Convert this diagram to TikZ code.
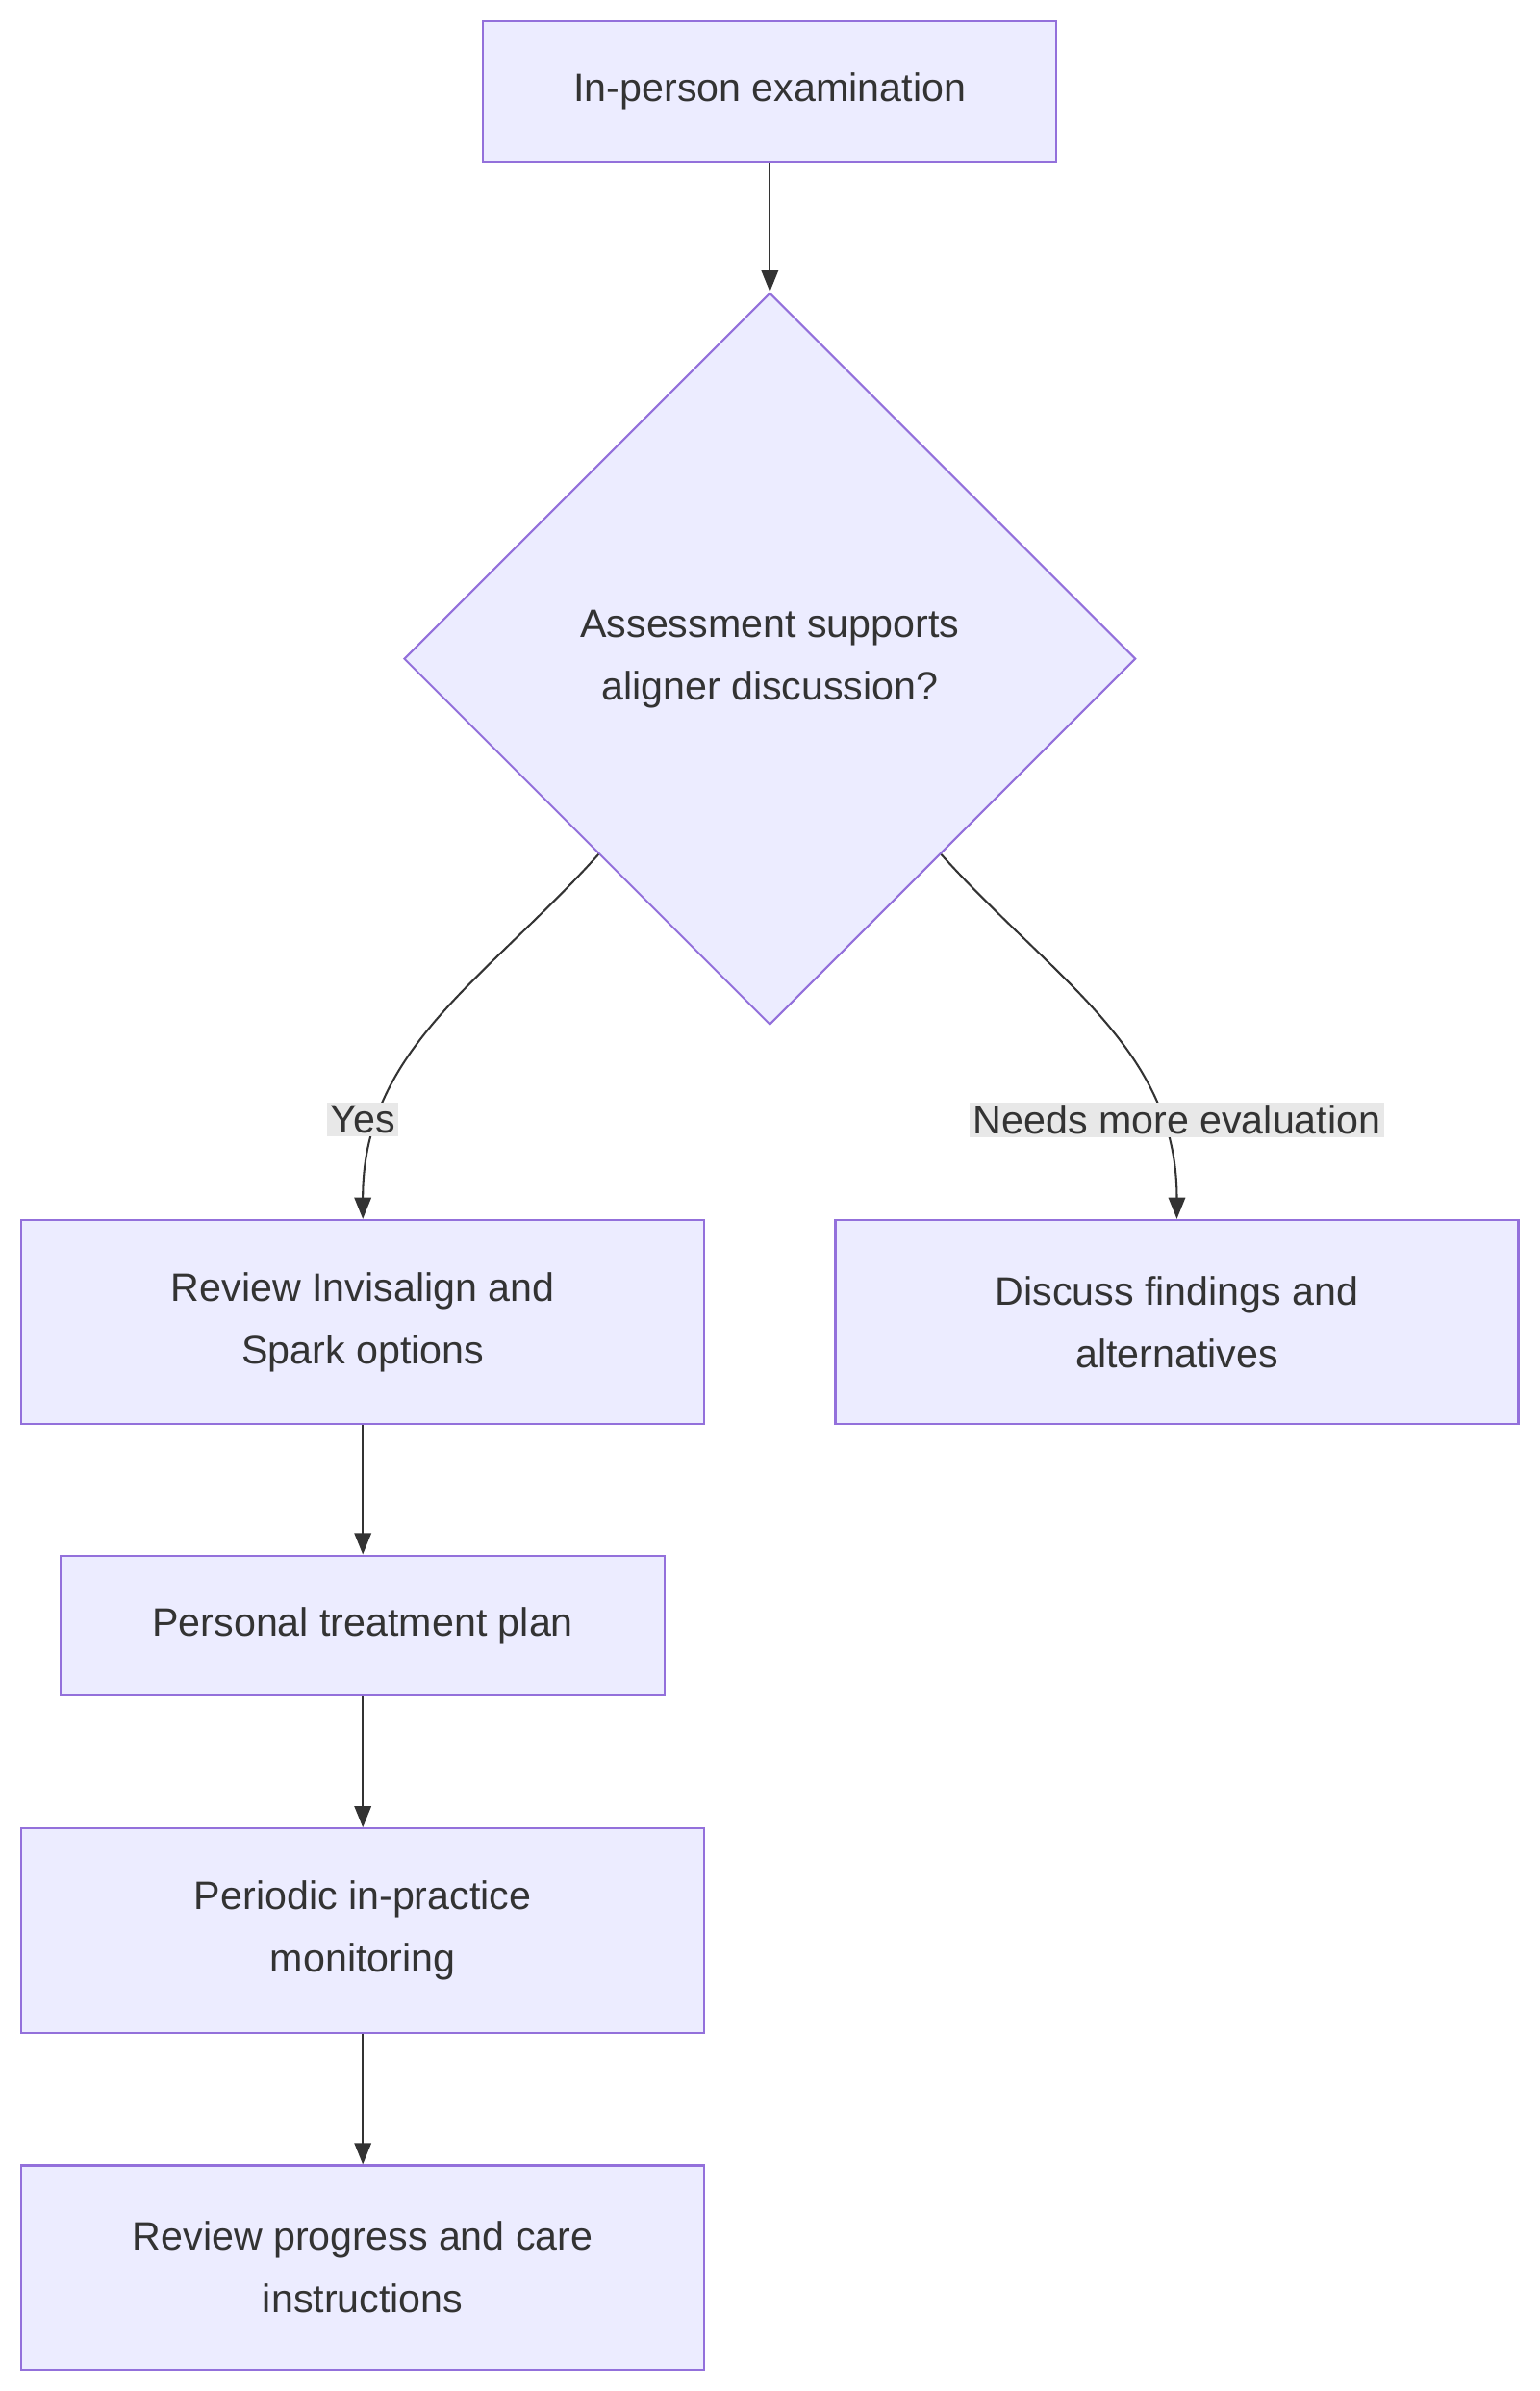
\documentclass[tikz,border=0pt]{standalone}
\usepackage{fontspec}
\setmainfont{Liberation Sans}
\usetikzlibrary{arrows.meta,shapes.geometric,calc}
\definecolor{boxfill}{HTML}{ECECFF}
\definecolor{boxline}{HTML}{9370DB}
\definecolor{ink}{HTML}{333333}
\definecolor{lblbg}{HTML}{E8E8E8}
\tikzset{
  box/.style={draw=boxline,fill=boxfill,line width=1.3pt,text=ink,align=center,
    font=\fontsize{26}{41}\selectfont,inner sep=0pt},
  flow/.style={draw=ink,line width=1.3pt,-{Triangle[length=14pt,width=11pt]}},
  lbl/.style={fill=lblbg,text=ink,font=\fontsize{26}{30}\selectfont,inner sep=2pt}
}
\begin{document}
\begin{tikzpicture}[x=1pt,y=-1pt]
\useasboundingbox (0,0) rectangle (1010,1568);
% nodes
\node[box,minimum width=376pt,minimum height=92pt] (exam) at (505,60) {In-person examination};
\node[box,diamond,minimum width=480pt,minimum height=480pt] (assess) at (505,432) {Assessment supports\\aligner discussion?};
\node[box,minimum width=448pt,minimum height=134pt] (review) at (238,867) {Review Invisalign and\\Spark options};
\node[box,minimum width=448pt,minimum height=134pt] (discuss) at (772,867) {Discuss findings and\\alternatives};
\node[box,minimum width=396pt,minimum height=92pt] (plan) at (238,1066) {Personal treatment plan};
\node[box,minimum width=448pt,minimum height=134pt] (monitor) at (238,1266) {Periodic in-practice\\monitoring};
\node[box,minimum width=448pt,minimum height=134pt] (progress) at (238,1487) {Review progress and care\\instructions};
% connectors
\coordinate (yesout) at ($(assess.west)!0.533!(assess.south)$);
\coordinate (noout) at ($(assess.east)!0.533!(assess.south)$);
\draw[flow] (exam) -- (assess);
\draw[flow] (yesout) to[out=-132,in=90] (review.north);
\draw[flow] (noout) to[out=-48,in=90] (discuss.north);
\draw[flow] (review) -- (plan);
\draw[flow] (plan) -- (monitor);
\draw[flow] (monitor) -- (progress);
% labels
\node[lbl] (yes) at ($(review.north)+(0,-65)$) {Yes};
\node[lbl] (more) at ($(discuss.north)+(0,-65)$) {Needs more evaluation};
\end{tikzpicture}
\end{document}
